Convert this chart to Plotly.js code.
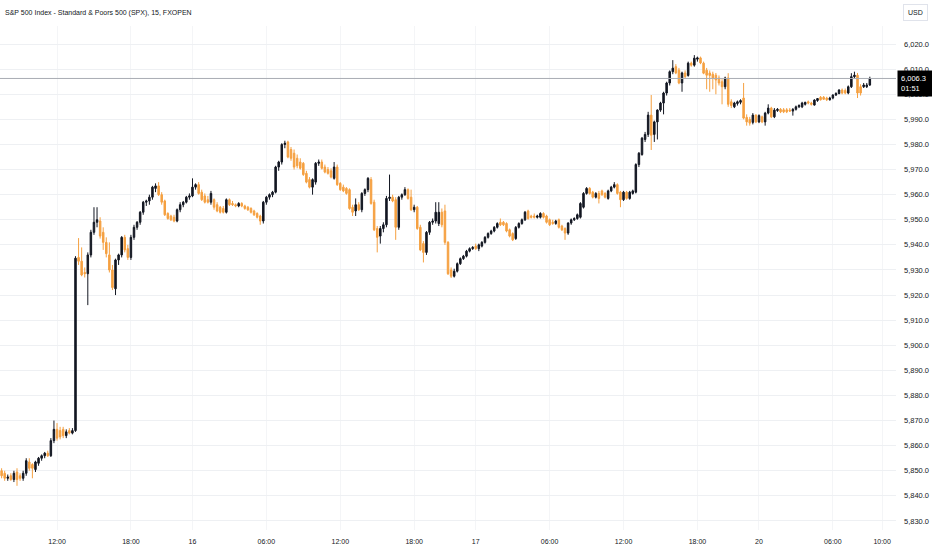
<!DOCTYPE html>
<html>
<head>
<meta charset="utf-8">
<script src="https://cdn.plot.ly/plotly-3.0.1.min.js"></script>
<style>
html,body{margin:0;padding:0;background:#fff;}
#chart{width:932px;height:550px;}
</style>
</head>
<body>
<div id="chart"></div>
<script>
// 15-minute bars, S&P 500 (FXOPEN)
const openP = [
5850,5849,5847,5848,5846.5,5849.5,5848,5847,5849,5853.5,5852.5,5850.5,5853,5855,5856,5857,5856,5862,5866.5,5866,
5866.5,5864,5866,5865,5866,5935,5933.5,5929,5928.5,5936,5945,5949,5949.5,5945,5941,5936,5930,5922.5,5934,5936,
5943,5938.5,5935,5943,5947,5949,5953,5957,5957.5,5959,5962.5,5963.5,5960,5957.5,5952.5,5951.5,5951,5949.5,5954,5956,
5957,5959,5959.5,5963,5964,5961,5959.5,5958,5957,5958,5956,5955,5954.5,5953,5958,5956.5,5956,5955.5,5956.5,5955.5,
5955,5954.5,5953.5,5952.5,5951.5,5949.5,5957,5959,5960,5961,5971,5973,5980,5981,5978,5976.5,5974.5,5973,5972.5,5968.5,
5966,5963,5965,5972.5,5973,5971,5970,5969.5,5966.5,5971,5964.5,5963,5962.5,5962,5955,5953.5,5956,5954,5960.5,5962,
5966,5957,5946.5,5943.5,5946.5,5948,5958.5,5959,5958,5947,5959,5960,5962,5959,5954,5955,5947,5940.5,5937,5945,
5949,5949.5,5948.5,5953,5953.5,5941,5930,5927.5,5929.5,5932.5,5934.5,5935.5,5937.5,5938.5,5939.5,5938.5,5939.5,5941,5943,5944.5,
5945.5,5947,5949,5949,5948.5,5946,5944.5,5942.5,5947,5948.5,5950,5953.5,5951.5,5951.5,5951,5951,5952.5,5951.5,5950,5949,
5948.5,5950,5947.5,5946.5,5944.7,5948.7,5950,5950.5,5951,5955,5960.5,5962.5,5961,5959,5960.5,5961.5,5960.5,5958.5,5961.5,5963,
5964,5961,5958,5961,5958.5,5960.5,5961,5972,5976,5982,5984,5991.7,5984,5989,5993.7,5996.5,6000.5,6004.5,6009,6011,
6009.6,6004.5,6008.5,6007.5,6012.4,6011.6,6014,6014.5,6012.4,6009.6,6008.5,6008,6007.6,6006.5,6005,6003,6006.5,5997,5995,5996.3,
5996.8,5998.5,5990.8,5990,5988.8,5991.7,5989,5991,5989,5992.5,5994.5,5991,5993.5,5994,5993.8,5993.8,5993.7,5993.3,5994,5995,
5995,5996,5997,5996.5,5995.7,5997.5,5998.8,5998.8,5998.5,5997.8,5998.5,5999.7,6000.3,6001.7,6001.5,6000.5,6003,6007,6007.6,6003,
6003,6003,6003.7
];
const highP = [
5851,5850,5848.5,5849,5850,5851,5849,5850,5855,5855,5853,5854,5855.5,5856.5,5857.5,5858,5863,5870,5869,5867.5,
5867.5,5866.5,5867,5867,5935.5,5942.7,5939,5931,5937,5946,5955,5955,5951,5947,5943,5941,5932,5934.5,5936.5,5943.5,
5944,5940,5944,5948,5949.5,5953.5,5957.5,5958,5960,5963.5,5964.5,5965,5961,5958,5953,5952,5952,5954.5,5957,5957.5,
5959.5,5960.5,5966.5,5964.5,5965,5962,5960.5,5959.5,5961.5,5958.5,5957,5955.5,5955.5,5958.5,5958.5,5957.5,5956.5,5957,5957,5956,
5955.5,5955,5954,5953,5952,5957.5,5959.5,5960.5,5961.5,5971.5,5973.5,5980.5,5981.5,5981.5,5979,5978,5976,5974.5,5973,5969.5,
5967,5966.5,5973,5974,5974,5972,5971,5970.5,5973,5972,5965,5964,5963,5962.5,5956,5958.5,5957,5961,5962.5,5967,
5967,5958,5947.5,5947.5,5949,5959.5,5968,5960,5959,5959.5,5960.5,5963,5962.5,5962,5956,5955.5,5948,5941.5,5945.5,5949.5,
5950.5,5957,5957,5954.5,5956,5941.5,5931,5930.5,5933,5935,5936,5938,5939,5939.5,5940.5,5940.5,5941.5,5943.5,5945,5946,
5947.5,5949,5950.5,5949.5,5949,5946.5,5945,5947.5,5949,5950.5,5953.5,5954,5952,5952.5,5952,5953,5953,5952,5950.5,5950,
5950,5950.5,5948,5947,5949,5950.5,5951,5952.5,5957,5961,5963,5963,5961.5,5961,5961.5,5962,5961,5962,5963.5,5965,
5964.5,5961.5,5961.5,5961.5,5961.5,5962,5972.5,5977,5983,5985,5993,5999.7,5989.5,5994,5997,6001,6005,6009.5,6013.6,6012,
6010.5,6009,6009.5,6013,6013,6015.6,6015,6015,6013,6010.5,6009.5,6009,6008.5,6007.5,6006,6007,6008.4,5998,5997,5997.5,
5998,6004.5,5992,5991,5992.5,5992,5992,5991.5,5993,5996,5995,5994.5,5994.5,5994.5,5994.5,5994.5,5994.5,5994.5,5995.5,5996,
5997,5997,5997.5,5997,5998,5998.5,5999.3,5999.3,5999,5999,6000,6000.8,6002,6002.3,6002.3,6003.5,6008.4,6009,6008.5,6004,
6004.5,6004.5,6007
];
const lowP = [
5847,5846,5846,5846,5845.5,5844,5846,5846,5848,5850,5847,5849.5,5852,5854,5855,5855.5,5855.5,5861,5862,5862.5,
5863,5863,5864.5,5864.5,5865.5,5932,5927.5,5927,5916,5935,5944,5947,5942.5,5938,5935,5929,5922,5920,5932,5935,
5937,5934,5934,5942,5946,5948,5952,5955.5,5956,5958,5961,5959.5,5956,5951.5,5950,5949.5,5949,5949,5953,5955,
5956.5,5958,5959,5962,5960,5957.5,5956.5,5956.5,5956,5954,5953,5952.5,5952.5,5952.5,5955.5,5955.5,5955,5955,5955,5954,
5953.5,5952.5,5951.5,5950.5,5948,5948.5,5956,5958,5959,5960.5,5969.5,5972,5978.5,5974.5,5973.5,5970,5970.5,5970,5967.5,5964.5,
5962.5,5960,5964,5971.5,5970,5968.5,5968,5966.5,5966,5963.5,5961.5,5961,5960,5954,5951.5,5951.5,5953.5,5953,5959.5,5961,
5956,5945.5,5937,5940.5,5945,5947,5957.5,5957,5942,5946,5958,5959.5,5958,5953.5,5953,5946,5937.5,5933,5936,5944,
5948,5948.5,5947.5,5947,5940,5928,5926.8,5927,5929,5932,5934,5935,5937,5938,5938,5937.5,5939,5940.5,5942.5,5944,
5945,5946.5,5947.5,5947.5,5945,5943,5941.5,5942,5946.5,5948,5949.5,5950,5950.5,5950.5,5950.5,5950.5,5950.5,5948.5,5947.5,5948,
5948,5946.5,5945.5,5942,5944,5948,5949.5,5950,5950.5,5954.5,5960,5960,5958.5,5958.5,5956.5,5959.5,5958.5,5958,5961,5962.5,
5960,5955,5957.5,5958,5958,5960,5960.5,5971,5975.5,5981,5983,5977.8,5981,5982,5993,5992,5999.5,6003.5,6008,6008,
6004,6001,6006.5,6007,6011,6011,6013,6012,6008,6002,6001,6002,6000,6003.5,5996,6002,5995,5994.5,5994.5,5995.5,
5996,5990,5987.5,5987.5,5988,5988.5,5988.5,5988.5,5987.5,5992,5990.5,5990.5,5993,5992.5,5992.5,5992.5,5993,5991.5,5993.5,5994.5,
5994.5,5995.5,5996,5995.5,5995.5,5997,5997.5,5997.8,5997.3,5997.5,5998,5999.3,6000,6000,6000,6000,6002.5,6006.5,5998.5,5999.5,
6002.5,6002.5,6003.3
];
const closeP = [
5848,5847,5847.5,5846.5,5849,5846.5,5847,5849,5854,5851,5851,5853.5,5855,5856,5857,5856,5862,5866.5,5863,5863.5,
5864,5865.5,5865,5866,5934.7,5933.5,5928,5928.5,5936,5945,5949,5950,5943.5,5941,5936.5,5930,5923,5934,5936,5943,
5938,5935,5943,5947,5949,5953,5957,5957.5,5959,5963,5963.5,5960,5957,5952,5950.5,5950,5949.5,5954,5956,5957,
5959,5959.5,5963,5964,5960.5,5958,5957,5957,5960.5,5955,5953.5,5953,5953,5958,5956,5956,5955.5,5956.5,5955.5,5954.5,
5954,5953,5952,5951,5949.5,5957,5959,5960,5961,5971,5973,5980,5980.5,5975,5974.5,5971,5971.5,5970.5,5968,5965,
5963,5966,5972.5,5973,5970.5,5969,5968.5,5967,5971,5964,5962,5961.5,5960.5,5954.5,5953,5956,5954,5960.5,5962,5966.5,
5956.5,5946,5943,5946.5,5948,5958.5,5959,5957.5,5947,5959,5960,5962,5958.5,5954,5955,5946.5,5938,5937,5945,5949,
5949.5,5953,5953,5948,5941,5928.5,5927.5,5929.5,5932.5,5934.5,5935.5,5937.5,5938.5,5939,5938.5,5940,5941,5943,5944.5,5945.5,
5947,5948.5,5948,5948,5945.5,5943.5,5942,5947,5948.5,5950,5953,5950.5,5951,5951,5951.5,5952.5,5951,5949,5948,5948.5,
5949.5,5947,5946,5944.7,5948.7,5950,5950.5,5952,5956.5,5960.5,5962.5,5960.5,5959,5960.5,5958.5,5960,5959,5961.5,5963,5964,
5960.5,5958,5961,5958.5,5961,5961.5,5972,5976.5,5982.5,5984,5991.7,5983.7,5989,5993.7,5996.5,6000.5,6004.5,6009,6010.4,6008.5,
6004.5,6008.5,6007,6012.4,6011.6,6014.4,6014.5,6012.5,6008.4,6007.6,6007.5,6006.5,6005.7,6004.5,6003,6006.5,5996,5995.5,5996.5,5997,
5997.5,5990.5,5989,5988.5,5991.7,5989,5991.5,5989,5992.5,5994.5,5991,5993.7,5994,5993,5993,5993,5993.3,5994,5995,5995.5,
5996.5,5996.8,5996.5,5996,5997.7,5998.3,5997.8,5998,5997.8,5998.5,5999.7,6000.3,6001.7,6000.5,6000.5,6003,6007,6007.6,6000.5,6000.5,
6003.7,6003.7,6006.3
];
// time labels and the bar (15-min slot) they fall on
const tickLabels = ['12:00','18:00','16','06:00','12:00','18:00','17','06:00','12:00','18:00','20','06:00','10:00'];
const tickBars   = [18, 42, 62, 86, 110, 134, 154, 178, 202, 226, 246, 270, 286];
const lastPrice = 6006.3;
const lastPriceText = '6,006.3';
const countdown = '01:51';
const titleText = 'S&P 500 Index - Standard & Poors 500 (SPX), 15, FXOPEN';

const barIdx = closeP.map((_, i) => i);
const UP = '#131722';
const DOWN = '#f5a041';
const FONT = '"Liberation Sans", Arial, sans-serif';
const TXT = '#131722';

const trace = {
  type: 'candlestick',
  x: barIdx, open: openP, high: highP, low: lowP, close: closeP,
  increasing: {line: {color: UP, width: 1}, fillcolor: UP},
  decreasing: {line: {color: DOWN, width: 1}, fillcolor: DOWN},
  whiskerwidth: 0,
  hoverinfo: 'none',
  showlegend: false
};

const layout = {
  width: 932, height: 550,
  margin: {l: 0, r: 36, t: 26, b: 20},
  paper_bgcolor: '#ffffff', plot_bgcolor: '#ffffff',
  font: {family: FONT, size: 7.5, color: TXT},
  showlegend: false,
  xaxis: {
    range: [-0.52, 290.5],
    tickmode: 'array', tickvals: tickBars, ticktext: tickLabels,
    showgrid: true, gridcolor: '#f4f5f7', gridwidth: 1,
    zeroline: false, showline: false, ticks: '',
    ticklabelstandoff: 6,
    tickfont: {family: FONT, size: 7, color: TXT},
    rangeslider: {visible: false},
    fixedrange: true
  },
  yaxis: {
    side: 'right',
    range: [5826.4, 6027.2],
    dtick: 10, tick0: 5830,
    tickformat: ',.1f',
    showgrid: true, gridcolor: '#eef0f3', gridwidth: 1,
    zeroline: false, showline: false, ticks: '',
    ticklabelstandoff: 7,
    tickfont: {family: FONT, size: 7.5, color: TXT},
    fixedrange: true
  },
  shapes: [
    {type: 'line', xref: 'paper', x0: 0, x1: 1, yref: 'y', y0: lastPrice, y1: lastPrice,
     line: {color: '#a9acb3', width: 1}}
  ],
  annotations: [
    {xref: 'paper', yref: 'paper', x: 0, y: 1, xanchor: 'left', yanchor: 'bottom',
     yshift: 7, xshift: 3, text: titleText, showarrow: false,
     font: {family: FONT, size: 7, color: TXT}},
    {xref: 'paper', yref: 'y', x: 1, y: lastPrice, xanchor: 'left', yanchor: 'middle',
     xshift: 1, yshift: -5, text: lastPriceText + '<br>' + countdown, showarrow: false,
     bgcolor: '#000000', font: {family: FONT, size: 7.5, color: '#ffffff'},
     borderpad: 3, align: 'left', width: 29},
    {xref: 'paper', yref: 'paper', x: 1, y: 1, xanchor: 'left', yanchor: 'bottom',
     xshift: 7, yshift: 5, text: 'USD', showarrow: false,
     bordercolor: '#e0e3eb', borderwidth: 1, borderpad: 4, bgcolor: '#ffffff',
     font: {family: FONT, size: 7, color: TXT}}
  ]
};

Plotly.newPlot('chart', [trace], layout, {displayModeBar: false, staticPlot: true});
</script>
</body>
</html>
